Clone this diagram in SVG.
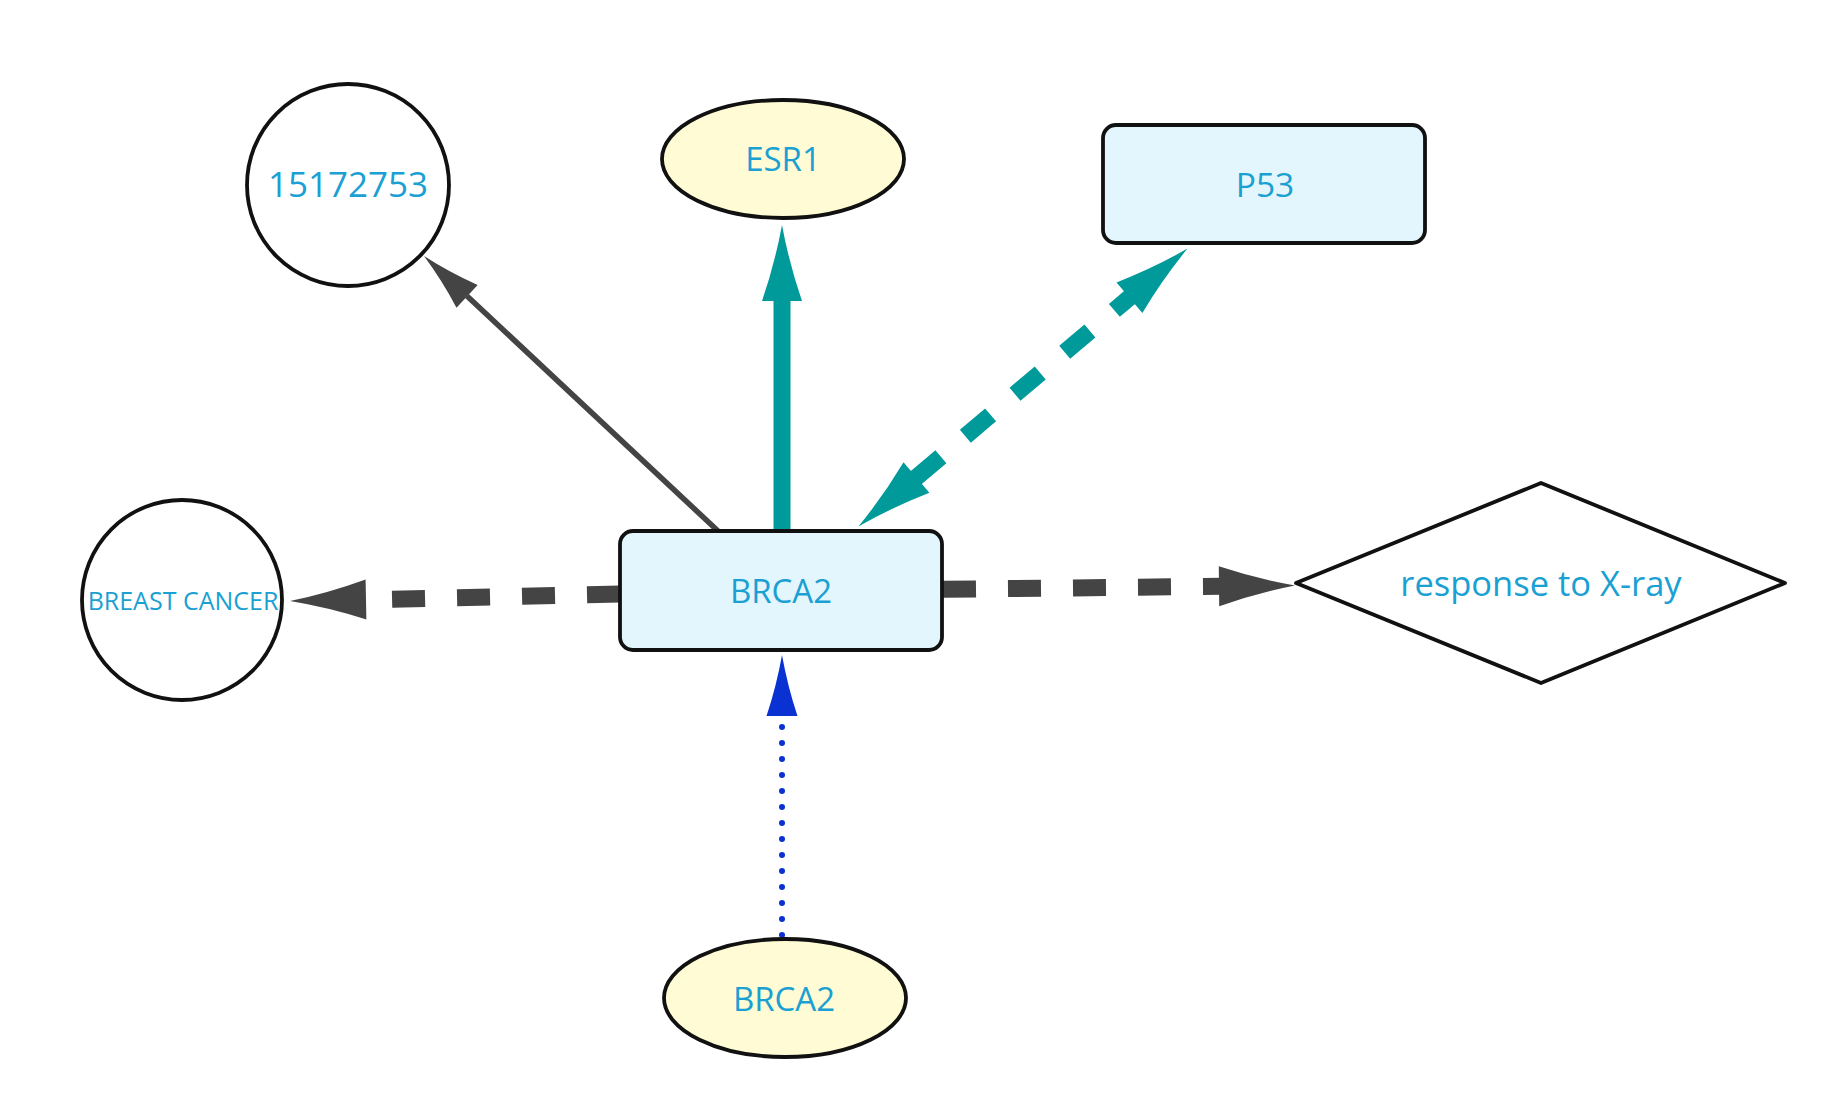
<svg xmlns="http://www.w3.org/2000/svg" xmlns:xlink="http://www.w3.org/1999/xlink" width="1822" height="1110" viewBox="0 0 1822 1110">
<style>
.lbl{font-family:"Open Sans","Liberation Sans",sans-serif;fill:#1aa0d2;text-anchor:middle}
.nd{stroke:#111;stroke-width:3.8}
.gray{stroke:#444;fill:none}
.teal{stroke:#009a9a;fill:none}
</style>
<defs>
<path id="ahBig" d="M0,0 Q-38,-7 -76,-20 L-76,20 Q-38,7 0,0 Z"/>
<path id="ahSmall" d="M0,0 Q-30,-5.5 -59,-15.5 L-59,15.5 Q-30,5.5 0,0 Z"/>
<path id="ahBlue" d="M0,0 Q-31,-5.5 -61,-15.5 L-61,15.5 Q-31,5.5 0,0 Z"/>
</defs>
<rect width="1822" height="1110" fill="#fff"/>
<g id="connectors">
<!-- BRCA2 -> 15172753 -->
<line class="gray" x1="718" y1="531" x2="467" y2="296" stroke-width="5.5"/>
<use xlink:href="#ahSmall" fill="#444" transform="translate(424,256) rotate(-136.9)"/>
<!-- BRCA2 -> ESR1 -->
<line class="teal" x1="782" y1="531" x2="782" y2="298" stroke-width="17"/>
<use xlink:href="#ahBig" fill="#009a9a" transform="translate(782,225) rotate(-90)"/>
<!-- BRCA2 <-> P53 -->
<line class="teal" x1="915.7" y1="478.1" x2="1130.2" y2="297" stroke-width="17" stroke-dasharray="33 32"/>
<use xlink:href="#ahBig" fill="#009a9a" transform="translate(1187.5,248.6) rotate(-40.2)"/>
<use xlink:href="#ahBig" fill="#009a9a" transform="translate(858.4,526.5) rotate(139.8)"/>
<!-- BRCA2 -> BREAST CANCER -->
<line class="gray" x1="620" y1="594" x2="364" y2="600" stroke-width="17" stroke-dasharray="33 32"/>
<use xlink:href="#ahBig" fill="#444" transform="translate(290,601) rotate(178.85)"/>
<!-- BRCA2 -> response to X-ray -->
<line class="gray" x1="943" y1="589.3" x2="1221" y2="586.3" stroke-width="17" stroke-dasharray="33 32"/>
<use xlink:href="#ahBig" fill="#444" transform="translate(1295,585.5) rotate(-0.6)"/>
<!-- BRCA2 (gene) -> BRCA2 -->
<line x1="782" y1="935" x2="782" y2="718" stroke="#0a32d2" stroke-width="6" stroke-linecap="round" stroke-dasharray="0 16"/>
<use xlink:href="#ahBlue" fill="#0a32d2" transform="translate(782,655) rotate(-90)"/>
</g>
<g id="node-15172753">
<circle class="nd" cx="348" cy="185" r="101" fill="#fff"/>
<text class="lbl" x="348" y="197" font-size="35">15172753</text>
</g>
<g id="node-ESR1">
<ellipse class="nd" cx="783" cy="159" rx="121" ry="59" fill="#fffcd5"/>
<text class="lbl" x="783" y="171" font-size="33">ESR1</text>
</g>
<g id="node-P53">
<rect class="nd" x="1103" y="125" width="322" height="118" rx="13" fill="#e4f6fd"/>
<text class="lbl" x="1265" y="197" font-size="33.5">P53</text>
</g>
<g id="node-BREAST-CANCER">
<circle class="nd" cx="182" cy="600" r="100" fill="#fff"/>
<text class="lbl" x="183" y="610" font-size="25">BREAST CANCER</text>
</g>
<g id="node-BRCA2">
<rect class="nd" x="620" y="531" width="322" height="119" rx="13" fill="#e4f6fd"/>
<text class="lbl" x="781" y="603" font-size="33">BRCA2</text>
</g>
<g id="node-response">
<polygon class="nd" points="1296,583 1541,483 1785,583 1541,683" fill="#fff" stroke-width="3" stroke-linejoin="round"/>
<text class="lbl" x="1541" y="596" font-size="34.5">response to X-ray</text>
</g>
<g id="node-BRCA2-gene">
<ellipse class="nd" cx="785" cy="998" rx="121" ry="59" fill="#fffcd5"/>
<text class="lbl" x="784" y="1011" font-size="33">BRCA2</text>
</g>
</svg>
